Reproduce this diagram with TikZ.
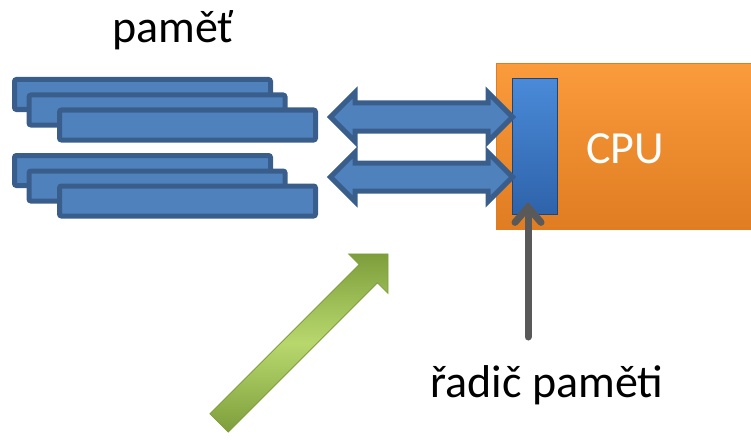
\documentclass[tikz,border=0pt]{standalone}
\usepackage{fontspec}
\setmainfont{Carlito}
\usetikzlibrary{shapes,arrows,arrows.meta,positioning}

\definecolor{memfill}{HTML}{4F81BD}
\definecolor{memline}{HTML}{3A5E8C}
\definecolor{cputop}{HTML}{FA9B3C}
\definecolor{cpubot}{HTML}{E07C22}
\definecolor{ctrltop}{HTML}{4A8AD8}
\definecolor{ctrlbot}{HTML}{2E63AA}
\definecolor{greendark}{HTML}{7E9E3C}
\definecolor{greenlight}{HTML}{B8D86E}
\definecolor{pointer}{HTML}{595959}

\begin{document}
\begin{tikzpicture}[x=1pt,y=-1pt]
			\tikzstyle{Label}	= [font=\fontsize{46}{55}\selectfont, inner sep=0pt]
			\tikzstyle{Module}	= [rectangle, draw=memline, fill=memfill, line width=5pt, rounded corners=2pt, minimum width=256pt, minimum height=30pt, inner sep=0pt]
			\tikzstyle{Bus}		= [double arrow, draw=memline, fill=memfill, line width=5pt, double arrow head extend=10.5pt, inner xsep=0pt, inner ysep=11.5pt, minimum height=182pt]
			\tikzstyle{Flow}	= [single arrow, draw=greendark, line width=0.8pt, top color=greendark, bottom color=greendark, middle color=greenlight, single arrow head extend=15pt, inner xsep=0pt, inner ysep=12.5pt, minimum height=239pt]
			\tikzstyle{Pointer}	= [draw=pointer, line width=7pt, line cap=round, -{Straight Barb[length=15pt, width=26pt, line cap=round]}]

			\useasboundingbox (0,0) rectangle (751,441);

			% processor with memory controller
			\node (cpu) at (633,146.5) [rectangle, draw=cpubot, line width=1pt, top color=cputop, bottom color=cpubot, minimum width=274pt, minimum height=166pt] {};
			\node (ctrl) at (535,146.5) [rectangle, draw=ctrlbot!70!black, line width=1pt, top color=ctrltop, bottom color=ctrlbot, minimum width=45pt, minimum height=136pt] {};
			\node (cputext) at (625,163) [Label, anchor=base, text=white] {CPU};

			% memory modules
			\foreach \s/\y in {1/94.5, 2/170.5}
				\foreach \l/\dx/\dy in {a/0/0, b/14.5/15.5, c/45/30.5}
					\node (mem\s\l) at (142.5+\dx, \y+\dy) [Module] {};

			\node (bus1) at (421.5,117) [Bus] {};
			\node (bus2) at (421.5,177) [Bus] {};

			\node (pamet) at (173,43) [Label, anchor=base] {paměť};
			\node (radic) at (547,397) [Label, anchor=base] {řadič paměti};

			\coordinate (tail) at (528,337);
			\draw [Pointer] (tail) -- ([xshift=-7pt,yshift=13pt]ctrl.south);

			\node (flow) at (299,343) [Flow, rotate=45] {};
		\end{tikzpicture}
\end{document}
